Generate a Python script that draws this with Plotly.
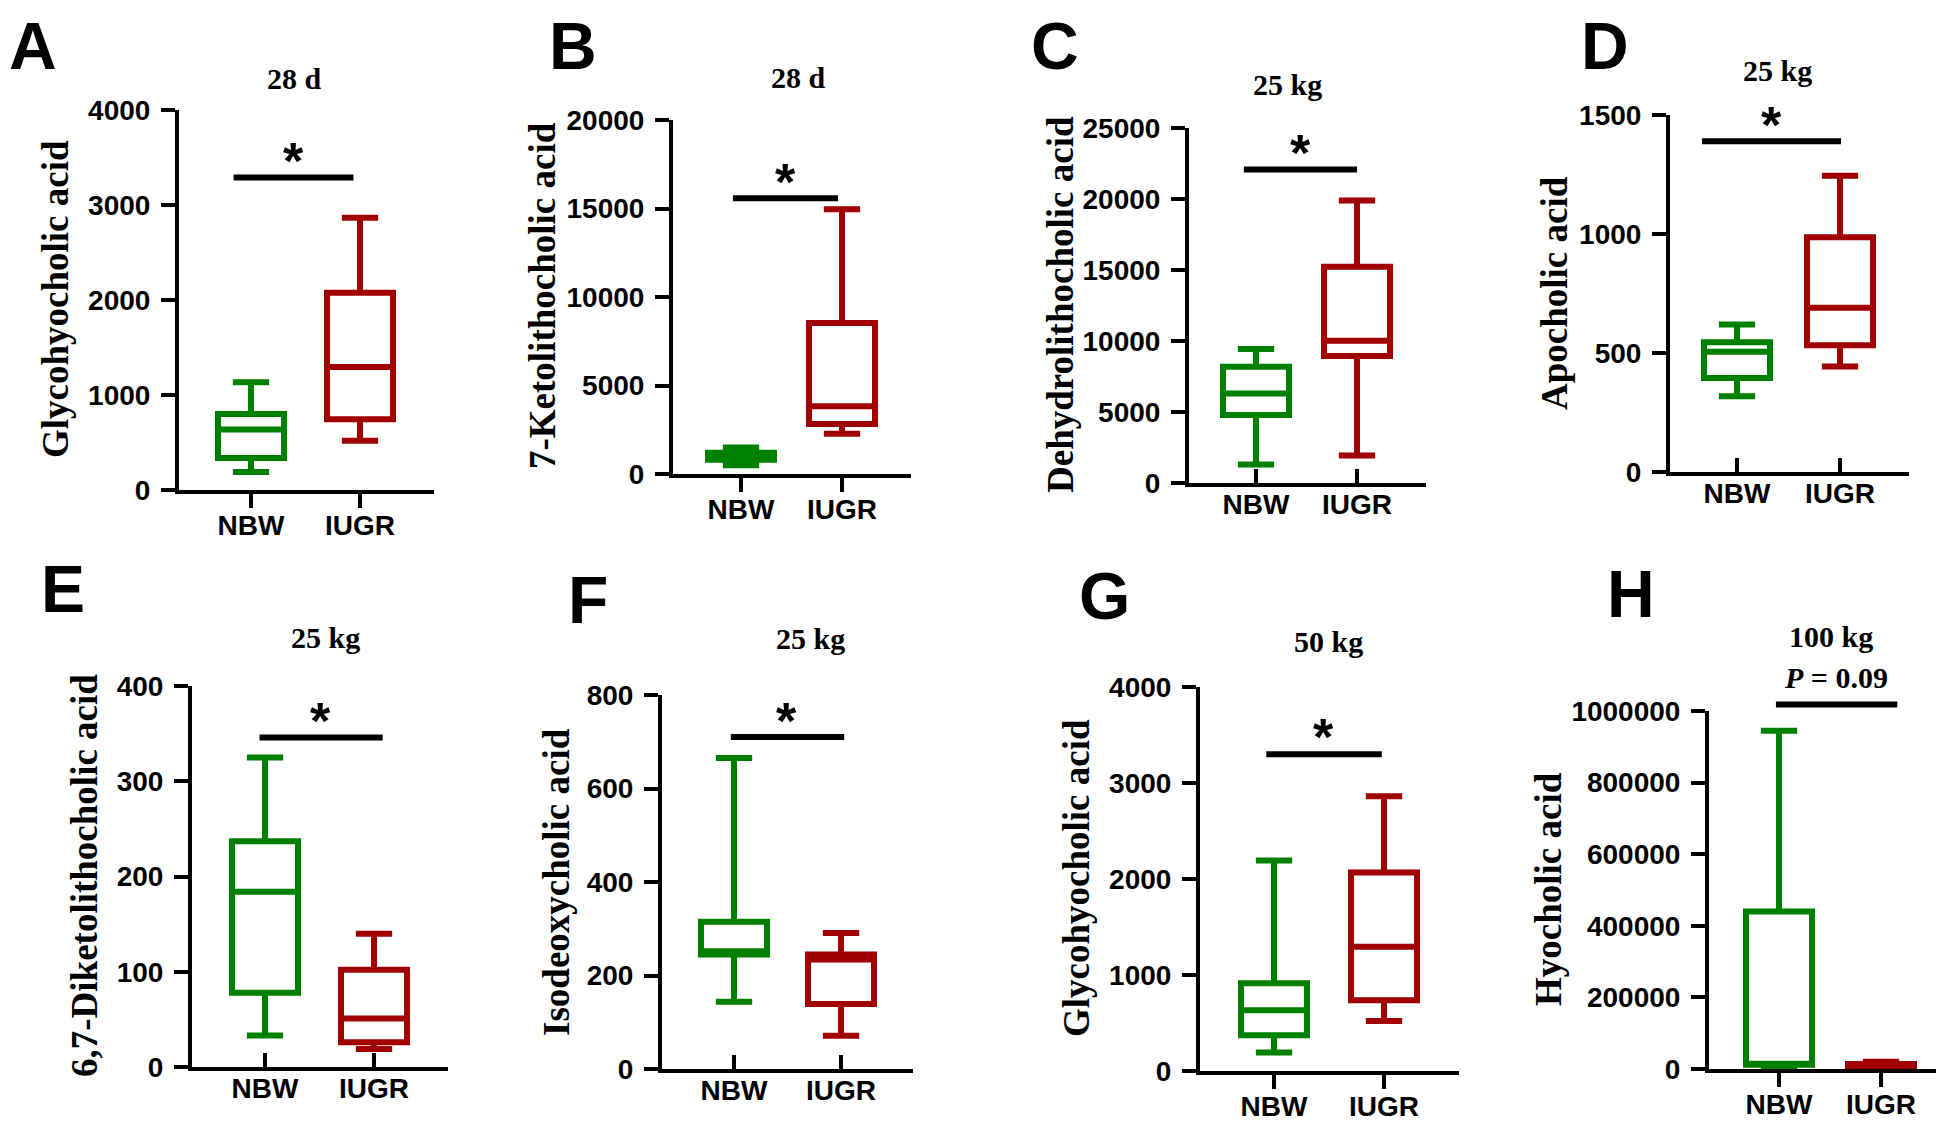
import plotly.graph_objects as go

# ---------------- data ----------------
groups = ["NBW", "IUGR"]
panel_letters = ["A", "B", "C", "D", "E", "F", "G", "H"]
panel_titles = ["28 d", "28 d", "25 kg", "25 kg", "25 kg", "25 kg", "50 kg", "100 kg"]
y_titles = ["Glycohyocholic acid", "7-Ketolithocholic acid", "Dehydrolithocholic acid",
            "Apocholic acid", "6,7-Diketolithocholic acid", "Isodeoxycholic acid",
            "Glycohyocholic acid", "Hyocholic acid"]
sig_labels = ["*", "*", "*", "*", "*", "*", "*", "<i>P</i> = 0.09"]
y_max = [4000, 20000, 25000, 1500, 400, 800, 4000, 1000000]
y_dtick = [1000, 5000, 5000, 500, 100, 200, 1000, 200000]

nbw_lower = [190, 490, 1300, 318, 33, 144, 194, 2000]
nbw_q1 = [338, 800, 4780, 395, 78, 245, 373, 12000]
nbw_median = [638, 1000, 6300, 505, 184, 252, 634, 14000]
nbw_q3 = [800, 1200, 8180, 545, 237, 315, 913, 440000]
nbw_upper = [1134, 1500, 9440, 620, 325, 665, 2192, 945000]

iugr_lower = [518, 2280, 1940, 443, 19, 71, 522, 3000]
iugr_q1 = [744, 2820, 8940, 533, 26, 139, 738, 6000]
iugr_median = [1296, 3830, 10020, 690, 51, 234, 1294, 10000]
iugr_q3 = [2077, 8530, 15230, 986, 102, 245, 2069, 14000]
iugr_upper = [2866, 14960, 19890, 1245, 140, 291, 2863, 20000]

sig_y = [3290, 15580, 22080, 1390, 346, 710, 3300, 1018000]

# ---------------- layout (pixel geometry) ----------------
W, H = 1944, 1121
# axis-left, axis-right, top, bottom, NBW x, IUGR x
geom = [
    (171, 426, 102, 482, 243, 352),
    (665, 903, 112, 466, 733, 834),
    (1181, 1418, 120, 475, 1248, 1349),
    (1662, 1901, 107, 464, 1729, 1832),
    (184, 440, 678, 1059, 257, 366),
    (654, 905, 687, 1061, 726, 833),
    (1192, 1451, 679, 1063, 1266, 1376),
    (1701, 1944, 703, 1061, 1771, 1873),
]
x_tick_dir = ["outside", "outside", "inside", "inside",
              "inside", "inside", "outside", "outside"]
bar_ext = [(-0.16, 0.94), (-0.08, 0.96), (-0.12, 1.0), (-0.34, 1.01),
           (-0.05, 1.08), (-0.03, 1.03), (-0.07, 0.98), (-0.03, 1.16)]
# letters: (x centre, y, anchor)
letter_pos = [(25, 0, "top"), (565, 0, "top"), (1047, 0, "top"), (1597, 0, "top"),
              (55, 581, "middle"), (580, 592, "middle"), (1096, 588, "middle"), (1623, 586, "middle")]
title_pos = [(286, 70), (790, 69), (1279, 76), (1769, 63),
             (317, 629), (802, 630), (1320, 633), (1823, 628)]
star_pos = [(285, 153), (777, 174), (1292, 145), (1763, 117),
            (312, 713), (778, 713), (1315, 729), (1828, 669)]
ytitle_pos = [(47, 291), (534, 288), (1052, 297), (1546, 285),
              (76, 868), (548, 874), (1068, 870), (1540, 881)]

GREEN = "#008000"
RED = "#a00000"
SANS = "Liberation Sans, Arial, sans-serif"
SERIF = "Liberation Serif, Times New Roman, serif"
BOX_PX = 66


def px(x):
    return x / W


def py(y):
    return 1 - y / H


fig = go.Figure()
annotations = []
shapes = []

stats = [
    (nbw_lower, nbw_q1, nbw_median, nbw_q3, nbw_upper, GREEN),
    (iugr_lower, iugr_q1, iugr_median, iugr_q3, iugr_upper, RED),
]

for i in range(8):
    xl, xr, yt, yb, xn, xi = geom[i]
    sp = xi - xn
    r0 = -(xn - xl) / sp
    r1 = 1 + (xr - xi) / sp
    sfx = "" if i == 0 else str(i + 1)
    xa, ya = "x" + sfx, "y" + sfx

    for g, (lo, q1, me, q3, up, col) in enumerate(stats):
        fig.add_trace(go.Box(
            x=[groups[g]], lowerfence=[lo[i]], q1=[q1[i]], median=[me[i]],
            q3=[q3[i]], upperfence=[up[i]],
            width=BOX_PX / sp, whiskerwidth=0.55,
            line=dict(color=col, width=6), fillcolor="white",
            boxpoints=False, showlegend=False, hoverinfo="skip",
            xaxis=xa, yaxis=ya))

    axis_common = dict(showgrid=False, zeroline=False, showline=True,
                       linecolor="black", linewidth=4,
                       ticklen=14, tickwidth=4, tickcolor="black",
                       tickfont=dict(family=SANS, size=28, color="black", weight="bold"))
    fig.update_layout(**{
        "xaxis" + sfx: dict(domain=[px(xl), px(xr)], anchor=ya, type="category",
                            categoryorder="array", categoryarray=groups,
                            range=[r0, r1], ticks=x_tick_dir[i],
                            ticklabelstandoff=-7, **axis_common),
        "yaxis" + sfx: dict(domain=[py(yb), py(yt)], anchor=xa, range=[0, y_max[i]],
                            dtick=y_dtick[i], tick0=0, tickformat="d", ticks="outside",
                            ticklabelstandoff=5, **axis_common),
    })

    # significance bar
    shapes.append(dict(type="line", xref=xa, yref=ya + " domain",
                       x0=bar_ext[i][0], x1=bar_ext[i][1],
                       y0=sig_y[i] / y_max[i], y1=sig_y[i] / y_max[i],
                       line=dict(color="black", width=6)))

    # texts
    lx, ly, lanchor = letter_pos[i]
    annotations.append(dict(text=panel_letters[i], x=px(lx), y=py(ly),
                            xref="paper", yref="paper", showarrow=False,
                            xanchor="center", yanchor=lanchor, borderpad=0,
                            font=dict(family=SANS, size=66, color="black", weight="bold")))
    annotations.append(dict(text=panel_titles[i], x=px(title_pos[i][0]), y=py(title_pos[i][1]),
                            xref="paper", yref="paper", showarrow=False,
                            xanchor="center", yanchor="middle",
                            font=dict(family=SERIF, size=30, color="black", weight="bold")))
    is_star = sig_labels[i] == "*"
    annotations.append(dict(text=sig_labels[i], x=px(star_pos[i][0]), y=py(star_pos[i][1]),
                            xref="paper", yref="paper", showarrow=False,
                            xanchor="center", yanchor="middle",
                            font=dict(family=SANS if is_star else SERIF,
                                      size=52 if is_star else 30,
                                      color="black", weight="bold")))
    annotations.append(dict(text=y_titles[i], x=px(ytitle_pos[i][0]), y=py(ytitle_pos[i][1]),
                            xref="paper", yref="paper", showarrow=False, textangle=-90,
                            xanchor="center", yanchor="middle",
                            font=dict(family=SERIF, size=37, color="black", weight="bold")))

fig.update_layout(width=W, height=H,
                  margin=dict(l=0, r=0, t=0, b=0, pad=0, autoexpand=False),
                  paper_bgcolor="white", plot_bgcolor="white",
                  showlegend=False, annotations=annotations, shapes=shapes,
                  boxmode="overlay")

fig.write_html("out.html")
